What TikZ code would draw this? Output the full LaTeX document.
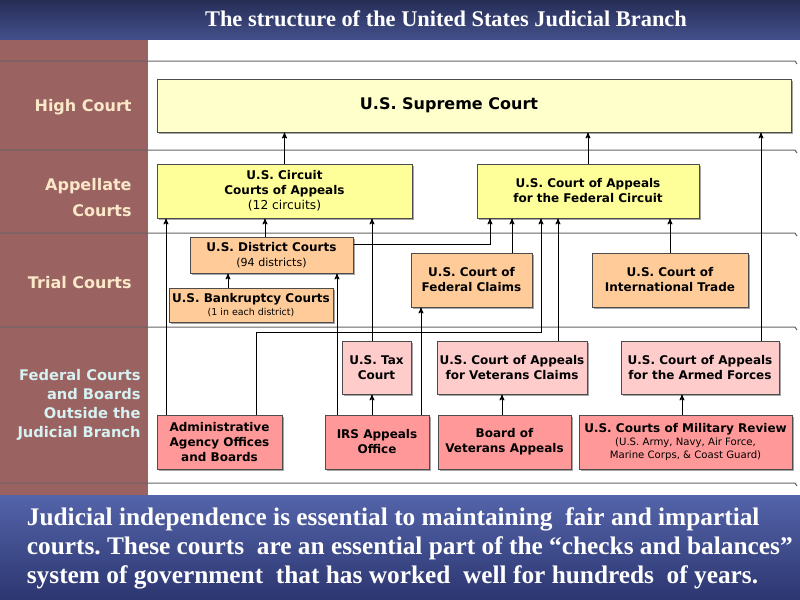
\documentclass[tikz,border=0pt]{standalone}
\usepackage{fontspec}
\setmainfont{Liberation Serif}
\newfontfamily\verdfont{DejaVu Sans}
\usetikzlibrary{arrows,shadows,positioning}

\definecolor{navytop}{RGB}{38,46,86}
\definecolor{navybot}{RGB}{68,80,140}
\definecolor{panetop}{RGB}{84,100,170}
\definecolor{panebot}{RGB}{44,54,112}
\definecolor{rosybrown}{RGB}{155,98,98}
\definecolor{cream}{RGB}{250,232,200}
\definecolor{paleaqua}{RGB}{214,242,242}
\definecolor{supremefill}{RGB}{255,255,204}
\definecolor{appfill}{RGB}{255,255,153}
\definecolor{trialfill}{RGB}{255,204,153}
\definecolor{outfill}{RGB}{255,204,204}
\definecolor{basefill}{RGB}{255,153,153}
\definecolor{rulegray}{RGB}{100,100,100}

\newcommand{\courtnote}[2][8.5]{{\mdseries\fontsize{#1}{11}\selectfont #2}}

\tikzset{
  court/.style={draw=black!70, line width=0.75pt, inner sep=0pt, align=center,
    font=\verdfont\bfseries\fontsize{9}{11.25}\selectfont,
    drop shadow={shadow xshift=1.8pt, shadow yshift=-1.8pt, fill=black, opacity=0.35}},
  tier/.style={anchor=east, align=right, text=cream, inner sep=0pt,
    font=\verdfont\bfseries\fontsize{12}{19.5}\selectfont},
  band/.style={draw=rulegray, line width=0.75pt},
}

\begin{document}
\begin{tikzpicture}[x=0.75pt,y=-0.75pt,>=stealth',line width=0.65pt]
\useasboundingbox (0,0) rectangle (800,600);
% backdrop
\shade[top color=navytop,bottom color=navybot] (0,0) rectangle (800,40);
\fill[white] (0,40) rectangle (800,495);
\fill[rosybrown] (0,40) rectangle (148,495);
\shade[top color=panetop,bottom color=panebot] (0,495) rectangle (800,600);
\foreach \y in {61,150,233,327,483}
  \draw[band] (0,\y) -- (795,\y) -- ++(2,3);

\node[text=white, font=\bfseries\fontsize{16.8}{20}\selectfont] (title) at (446,19)
  {The structure of the United States Judicial Branch};

% tiers
\node[tier] (high) at (132,107) {High Court};
\node[tier] (appellate) at (132,198) {Appellate\\Courts};
\node[tier] (trial) at (132,283) {Trial Courts};
\node[tier, text=paleaqua, font=\verdfont\bfseries\fontsize{11}{14.25}\selectfont] (outside) at (141,405)
  {Federal Courts\\and Boards\\Outside the\\Judicial Branch};

% courts
\node[court, fill=supremefill, minimum width=475.5pt, minimum height=39.75pt,
  font=\verdfont\bfseries\fontsize{12}{14}\selectfont] (supreme) at (474,105.5) {U.S. Supreme Court\hspace*{37.5pt}};
\node[court, fill=appfill, minimum width=191.25pt, minimum height=40.5pt] (circuit) at (284.5,191)
  {U.S. Circuit\\Courts of Appeals\\\courtnote[9.2]{(12 circuits)}};
\node[court, fill=appfill, minimum width=166.5pt, minimum height=40.5pt] (fedcirc) at (588,191)
  {U.S. Court of Appeals\\for the Federal Circuit};
\node[court, fill=trialfill, minimum width=122.25pt, minimum height=27pt] (district) at (271.5,255)
  {U.S. District Courts\\\courtnote[8.3]{(94 districts)}};
\node[court, fill=trialfill, minimum width=123pt, minimum height=25.5pt] (bankrupt) at (251,305)
  {U.S. Bankruptcy Courts\\[-1.5pt]\courtnote[7.1]{(1 in each district)}};
\node[court, fill=trialfill, minimum width=90.75pt, minimum height=40.5pt] (fedclaims) at (471.5,280)
  {U.S. Court of\\Federal Claims};
\node[court, fill=trialfill, minimum width=117pt, minimum height=40.5pt] (inttrade) at (670,280)
  {U.S. Court of\\International Trade};
\node[court, fill=outfill, minimum width=51.75pt, minimum height=39.75pt] (taxcourt) at (376.5,367.5)
  {U.S. Tax\\Court};
\node[court, fill=outfill, minimum width=112.5pt, minimum height=39.75pt] (vetclaims) at (512,367.5)
  {U.S. Court of Appeals\\for Veterans Claims};
\node[court, fill=outfill, minimum width=118.5pt, minimum height=39.75pt] (armed) at (700,367.5)
  {U.S. Court of Appeals\\for the Armed Forces};
\node[court, fill=basefill, minimum width=93.75pt, minimum height=40.5pt] (admin) at (219.5,442)
  {Administrative\\Agency Offices\\and Boards};
\node[court, fill=basefill, minimum width=78pt, minimum height=40.5pt] (irs) at (377,442)
  {IRS Appeals\\Office};
\node[court, fill=basefill, minimum width=99.75pt, minimum height=40.5pt] (board) at (504.5,442)
  {Board of\\Veterans Appeals};
\node[court, fill=basefill, minimum width=159.75pt, minimum height=40.5pt] (military) at (685.5,442)
  {U.S. Courts of Military Review\\[-1.5pt]\courtnote[7.6]{(U.S. Army, Navy, Air Force,}\\[-1.5pt]\courtnote[7.6]{Marine Corps, \& Coast Guard)}};

% appeals
\draw[->] (circuit.north) -- (circuit.north |- supreme.south);
\draw[->] (fedcirc.north) -- (fedcirc.north |- supreme.south);
\draw[->] (armed.north -| 761,0) -- (supreme.south -| 761,0);
\draw[->] (district.north -| 265,0) -- (circuit.south -| 265,0);
\draw[->] (admin.north -| 166,0) -- (circuit.south -| 166,0);
\draw[->] (taxcourt.north -| 372,0) -- (circuit.south -| 372,0);
\draw[->] (district.east |- 0,244) -| (fedcirc.south -| 490,0);
\draw[->] (fedclaims.north -| 512,0) -- (fedcirc.south -| 512,0);
\draw[->] (admin.north -| 256,0) |- (541,332) -- (fedcirc.south -| 541,0);
\draw[->] (vetclaims.north -| 558,0) -- (fedcirc.south -| 558,0);
\draw[->] (inttrade.north) -- (inttrade.north |- fedcirc.south);
\draw[->] (bankrupt.north -| 228,0) -- (district.south -| 228,0);
\draw[->] (irs.north -| 337,0) -- (district.south -| 337,0);
\draw[->] (irs.north -| 421,0) -- (fedclaims.south -| 421,0);
\draw[->] (irs.north -| 372,0) -- (taxcourt.south -| 372,0);
\draw[->] (board.north -| 502,0) -- (vetclaims.south -| 502,0);
\draw[->] (military.north -| 682,0) -- (armed.south -| 682,0);

\node[anchor=west, align=left, text=white, font=\bfseries\fontsize{19}{21.75}\selectfont\frenchspacing] (motto) at (22,548)
  {Judicial independence is essential to maintaining\ \ fair and impartial\\
   courts. These courts\ \ are an essential part of the “checks and balances”\\
   system of government\ \ that has worked\ \ well for hundreds\ \ of years.};
\end{tikzpicture}
\end{document}
